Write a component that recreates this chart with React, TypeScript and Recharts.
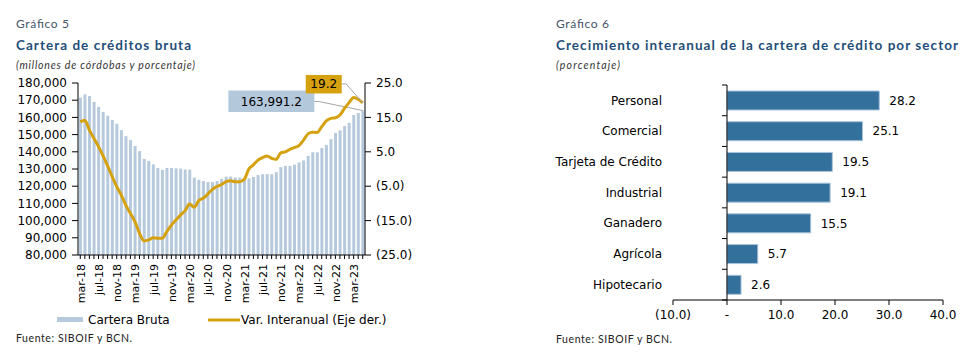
import React from "react";
import { ComposedChart, BarChart, Bar, Line, XAxis, YAxis, LabelList, ReferenceLine } from "recharts";

// Gráfico 5: cartera bruta (millones de córdobas) y variación interanual (%)
const months = [
  "mar-18", "abr-18", "may-18", "jun-18", "jul-18", "ago-18", "sep-18", "oct-18", "nov-18", "dic-18",
  "ene-19", "feb-19", "mar-19", "abr-19", "may-19", "jun-19", "jul-19", "ago-19", "sep-19", "oct-19", "nov-19", "dic-19",
  "ene-20", "feb-20", "mar-20", "abr-20", "may-20", "jun-20", "jul-20", "ago-20", "sep-20", "oct-20", "nov-20", "dic-20",
  "ene-21", "feb-21", "mar-21", "abr-21", "may-21", "jun-21", "jul-21", "ago-21", "sep-21", "oct-21", "nov-21", "dic-21",
  "ene-22", "feb-22", "mar-22", "abr-22", "may-22", "jun-22", "jul-22", "ago-22", "sep-22", "oct-22", "nov-22", "dic-22",
  "ene-23", "feb-23", "mar-23", "abr-23", "may-23",
];

const carteraBruta = [
  171500, 173400, 172400, 169000, 166100, 163200, 161000, 158500, 156300, 152600,
  149100, 146800, 143400, 140400, 135900, 134700, 132700, 130600, 129500, 130600, 130600, 130400,
  130200, 129700, 129600, 125000, 123700, 123000, 122400, 122400, 123000, 124300, 125500, 125600,
  125000, 125000, 124000, 124600, 125400, 126500, 127000, 127000, 127000, 128200, 131100, 131800,
  131800, 132500, 133800, 135000, 137600, 139700, 139700, 142200, 144000, 147400, 151000, 152500,
  155000, 156900, 161400, 162600, 163991.2,
];

const varInteranual = [
  13.7, 14.2, 11.3, 8.9, 6.5, 3.8, 0.9, -2.2, -5.1, -7.6,
  -10.5, -12.9, -15.3, -18.7, -20.9, -20.6, -20.0, -20.1, -20.1, -18.2, -16.3, -14.8,
  -13.4, -12.1, -10.2, -11.1, -9.2, -8.5, -7.3, -5.9, -5.1, -4.5, -3.7, -3.4,
  -3.7, -3.7, -3.0, 0.0, 1.2, 2.6, 3.3, 3.8, 3.1, 2.8, 4.7, 5.0,
  5.7, 6.2, 6.8, 8.4, 10.2, 10.7, 10.6, 12.3, 14.0, 14.7, 14.9, 15.7,
  17.6, 19.3, 20.8, 20.3, 19.2,
];

const leftTicks = [80000, 90000, 100000, 110000, 120000, 130000, 140000, 150000, 160000, 170000, 180000];
const rightTicks = [-25, -15, -5, 5, 15, 25];

// Gráfico 6: crecimiento interanual por sector (%)
const sectores = ["Personal", "Comercial", "Tarjeta de Crédito", "Industrial", "Ganadero", "Agrícola", "Hipotecario"];
const crecimiento = [28.2, 25.1, 19.5, 19.1, 15.5, 5.7, 2.6];
const sectorTicks = [-10, 0, 10, 20, 30, 40];

const carteraData = months.map((m, i) => ({ month: m, cartera: carteraBruta[i], variacion: varInteranual[i] }));
const sectorData = sectores.map((s, i) => ({ name: s, value: crecimiento[i] }));
const lastMonth = months[months.length - 1];

const BAR_LIGHT = "#b7cadd";
const GOLD = "#d5a10f";
const SECTOR_BLUE = "#33709c";
const AXIS_FONT = "DejaVu Sans, Verdana, sans-serif";
const TITLE_FONT = "Lato, 'Noto Sans', sans-serif";

const fmtMiles = (v: number) => v.toLocaleString("en-US", { maximumFractionDigits: 1 });
const fmtPct = (v: number) => (v < 0 ? `(${Math.abs(v).toFixed(1)})` : v === 0 ? "-" : v.toFixed(1));

const tickStyle = { fontSize: 12, fill: "#000", fontFamily: AXIS_FONT };

// barra con la anotación del último dato
const CarteraShape = (props: any) => {
  const { x, y, width, height, fill, payload } = props;
  const isLast = payload && payload.month === lastMonth;
  const px = x + width / 2;
  const py = y;
  return (
    <g>
      <rect x={x} y={y} width={width} height={height} fill={fill} />
      {isLast && (
        <g>
          <polyline
            points={`${px - 48.5},${py - 9} ${px - 44},${py - 9} ${px},${py}`}
            fill="none"
            stroke="#a6a6a6"
            strokeWidth={1}
          />
          <rect x={px - 134.5} y={py - 20} width={86} height={21.5} fill="#b4c8dc" />
          <text x={px - 91.5} y={py - 9} textAnchor="middle" dominantBaseline="central" fontSize={12} fontFamily={AXIS_FONT} fill="#000">
            {fmtMiles(payload.cartera)}
          </text>
        </g>
      )}
    </g>
  );
};

const VarDot = (props: any) => {
  const { cx, cy, payload, index } = props;
  if (!payload || payload.month !== lastMonth) return <g key={index} />;
  return (
    <g key={index}>
      <polyline
        points={`${cx - 21},${cy - 19} ${cx - 16.5},${cy - 19} ${cx},${cy}`}
        fill="none"
        stroke="#a6a6a6"
        strokeWidth={1}
      />
      <rect x={cx - 57} y={cy - 28} width={36} height={18.5} fill={GOLD} />
      <text x={cx - 39} y={cy - 18.5} textAnchor="middle" dominantBaseline="central" fontSize={12} fontFamily={AXIS_FONT} fill="#000">
        {payload.variacion.toFixed(1)}
      </text>
    </g>
  );
};

const MonthTick = (props: any) => {
  const { x, y, payload, index } = props;
  if (index % 4 !== 0) return <g />;
  const tx = x + 1;
  return (
    <text
      x={tx}
      y={y}
      transform={`rotate(-90 ${tx} ${y})`}
      textAnchor="end"
      dominantBaseline="central"
      fontSize={11}
      fontFamily={AXIS_FONT}
      fill="#000"
    >
      {payload.value}
    </text>
  );
};

// eje vertical en cero con marcas entre categorías
const ZeroAxis = (props: any) => {
  const { x1, y1, x2, y2 } = props;
  const n = sectores.length;
  const marks = Array.from({ length: n + 1 }, (_, k) => y1 + ((y2 - y1) * k) / n);
  return (
    <g>
      <line x1={x1} y1={y1} x2={x2} y2={y2} stroke="#000" strokeWidth={1} />
      {marks.map((my, k) => (
        <line key={k} x1={x1 - 5} x2={x1} y1={my} y2={my} stroke="#000" strokeWidth={1} />
      ))}
    </g>
  );
};

export default function App() {
  return (
    <div style={{ position: "absolute", left: 0, top: 0, width: 978, height: 357, background: "#fff", overflow: "hidden" }}>
      <svg width={978} height={357} style={{ position: "absolute", left: 0, top: 0 }}>
        {/* Gráfico 5 */}
        <text x={16} y={28} fontSize={12} fontFamily={TITLE_FONT} fill="#44546a" textLength={53} lengthAdjust="spacing">
          Gráfico 5
        </text>
        <text x={16} y={50} fontSize={13.5} fontWeight={700} fontFamily={TITLE_FONT} fill="#1f4e79" textLength={175} lengthAdjust="spacing">
          Cartera de créditos bruta
        </text>
        <text x={16} y={69} fontSize={10.5} fontStyle="italic" fontFamily={TITLE_FONT} fill="#333" textLength={179} lengthAdjust="spacing">
          (millones de córdobas y porcentaje)
        </text>
        <rect x={57} y={317} width={26} height={5} fill={BAR_LIGHT} />
        <text x={88} y={320} dominantBaseline="central" fontSize={12} fontFamily={AXIS_FONT} fill="#000">
          Cartera Bruta
        </text>
        <line x1={208} x2={240} y1={320} y2={320} stroke={GOLD} strokeWidth={3} />
        <text x={241} y={320} dominantBaseline="central" fontSize={12} fontFamily={AXIS_FONT} fill="#000">
          Var. Interanual (Eje der.)
        </text>
        <text x={16} y={342} fontSize={10.5} fontFamily={TITLE_FONT} fill="#222" textLength={116} lengthAdjust="spacing">
          Fuente: SIBOIF y BCN.
        </text>

        {/* Gráfico 6 */}
        <text x={556} y={28} fontSize={12} fontFamily={TITLE_FONT} fill="#44546a" textLength={53} lengthAdjust="spacing">
          Gráfico 6
        </text>
        <text x={556} y={50} fontSize={13.5} fontWeight={700} fontFamily={TITLE_FONT} fill="#1f4e79" textLength={402} lengthAdjust="spacing">
          Crecimiento interanual de la cartera de crédito por sector
        </text>
        <text x={556} y={69} fontSize={10.5} fontStyle="italic" fontFamily={TITLE_FONT} fill="#333" textLength={64} lengthAdjust="spacing">
          (porcentaje)
        </text>
        <text x={556} y={343} fontSize={10.5} fontFamily={TITLE_FONT} fill="#222" textLength={116} lengthAdjust="spacing">
          Fuente: SIBOIF y BCN.
        </text>
      </svg>

      <div style={{ position: "absolute", left: 0, top: 0 }}>
        <ComposedChart
          width={420}
          height={357}
          data={carteraData}
          margin={{ top: 83, right: 5, bottom: 52, left: 0 }}
          barCategoryGap="20%"
          style={{ fontFamily: AXIS_FONT }}
        >
          <XAxis
            dataKey="month"
            interval={0}
            height={50}
            tickSize={4}
            tickMargin={5}
            stroke="#000"
            tick={<MonthTick />}
          />
          <YAxis
            yAxisId="left"
            width={78}
            domain={[80000, 180000]}
            ticks={leftTicks}
            interval={0}
            tickFormatter={fmtMiles}
            tickSize={6}
            tickMargin={5}
            stroke="#000"
            tick={tickStyle}
            allowDataOverflow
          />
          <YAxis
            yAxisId="right"
            orientation="right"
            width={50}
            domain={[-25, 25]}
            ticks={rightTicks}
            interval={0}
            tickFormatter={fmtPct}
            tickSize={6}
            tickMargin={5}
            stroke="#000"
            tick={{ ...tickStyle, textAnchor: "start" }}
          />
          <Bar yAxisId="left" dataKey="cartera" fill={BAR_LIGHT} shape={CarteraShape} isAnimationActive={false} />
          <Line
            yAxisId="right"
            type="monotone"
            dataKey="variacion"
            stroke={GOLD}
            strokeWidth={3}
            dot={VarDot}
            activeDot={false}
            isAnimationActive={false}
          />
        </ComposedChart>
      </div>

      <div style={{ position: "absolute", left: 541, top: 0 }}>
        <BarChart
          width={437}
          height={357}
          data={sectorData}
          layout="vertical"
          margin={{ top: 85, right: 35, bottom: 27, left: 0 }}
          style={{ fontFamily: AXIS_FONT }}
        >
          <XAxis
            type="number"
            domain={[-10, 40]}
            ticks={sectorTicks}
            interval={0}
            tickFormatter={fmtPct}
            tickSize={5}
            tickMargin={5}
            height={30}
            stroke="#000"
            tick={tickStyle}
          />
          <YAxis
            type="category"
            dataKey="name"
            width={132}
            interval={0}
            axisLine={false}
            tickLine={false}
            tickSize={6}
            tickMargin={5}
            tick={tickStyle}
          />
          <Bar dataKey="value" fill={SECTOR_BLUE} stroke="#a9c3db" strokeWidth={1} barSize={19} isAnimationActive={false}>
            <LabelList dataKey="value" position="right" offset={10} formatter={(v: any) => Number(v).toFixed(1)} style={tickStyle} />
          </Bar>
          <ReferenceLine x={0} stroke="#000" shape={ZeroAxis} />
        </BarChart>
      </div>
    </div>
  );
}
